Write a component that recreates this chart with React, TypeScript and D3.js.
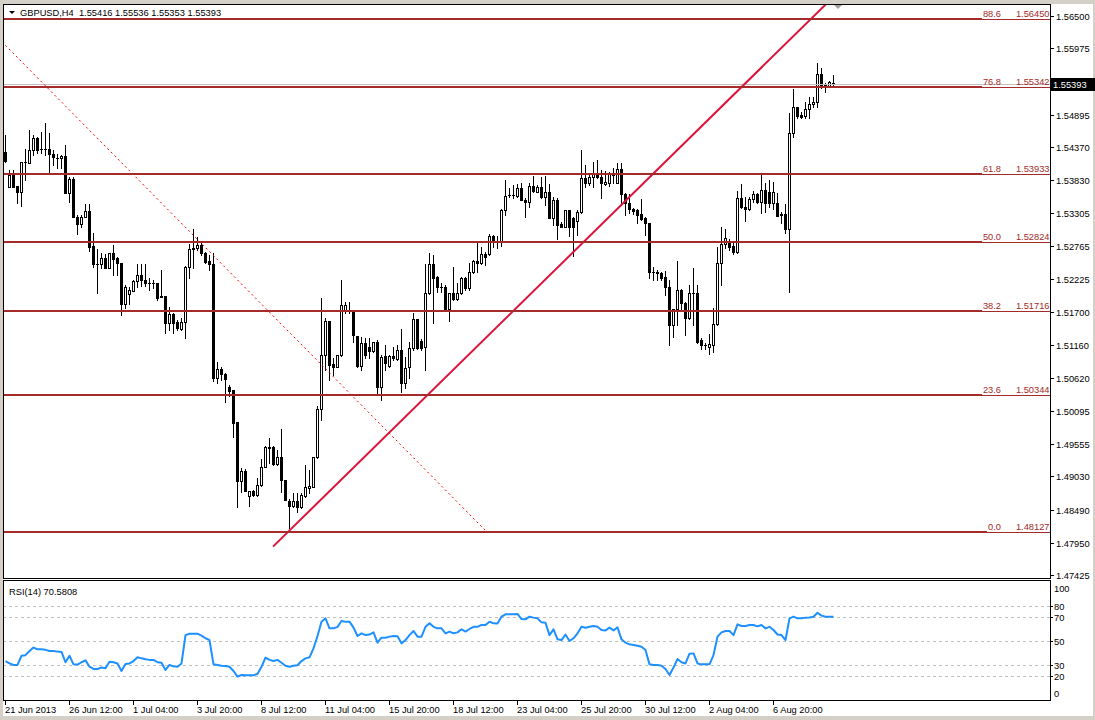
import React, { useEffect, useRef } from 'react';
import * as d3 from 'd3';

// ---------- data ----------
const symbolTitle = 'GBPUSD,H4';
const headerValues = ['1.55416', '1.55536', '1.55353', '1.55393'];
const bidPrice = 1.55393;
const rsiTitle = 'RSI(14) 70.5808';

// [open, high, low, close] per H4 bar, from 21 Jun 2013 20:00
const bars: [number, number, number, number][] = [
  [1.5429,1.5457,1.5413,1.5415],[1.5373,1.5400,1.5373,1.5392],[1.5392,1.5400,1.5373,1.5373],[1.5374,1.5374,1.5346,1.5364],
  [1.5364,1.5413,1.5342,1.5413],[1.5413,1.5434,1.5384,1.5413],[1.5411,1.5465,1.5411,1.5432],[1.5432,1.5457,1.5424,1.5452],
  [1.5452,1.5454,1.5428,1.5432],[1.5434,1.5462,1.5428,1.5434],[1.5434,1.5476,1.5424,1.5434],[1.5434,1.5460,1.5395,1.5426],
  [1.5426,1.5432,1.5408,1.5421],[1.5420,1.5426,1.5403,1.5420],[1.5420,1.5424,1.5403,1.5423],[1.5423,1.5441,1.5363,1.5363],
  [1.5363,1.5389,1.5348,1.5385],[1.5385,1.5389,1.5324,1.5324],[1.5324,1.5327,1.5296,1.5312],[1.5312,1.5327,1.5308,1.5324],
  [1.5324,1.5345,1.5324,1.5334],[1.5334,1.5345,1.5269,1.5275],[1.5277,1.5298,1.5243,1.5248],[1.5248,1.5272,1.5200,1.5248],
  [1.5248,1.5265,1.5241,1.5257],[1.5257,1.5264,1.5241,1.5241],[1.5241,1.5265,1.5241,1.5265],[1.5265,1.5278,1.5230,1.5256],
  [1.5257,1.5259,1.5230,1.5249],[1.5249,1.5249,1.5165,1.5183],[1.5183,1.5213,1.5176,1.5210],[1.5199,1.5210,1.5183,1.5205],
  [1.5204,1.5221,1.5204,1.5220],[1.5220,1.5248,1.5210,1.5230],[1.5230,1.5248,1.5212,1.5221],[1.5221,1.5248,1.5212,1.5217],
  [1.5217,1.5225,1.5205,1.5217],[1.5217,1.5221,1.5209,1.5217],[1.5217,1.5217,1.5189,1.5192],[1.5196,1.5238,1.5194,1.5194],
  [1.5196,1.5196,1.5136,1.5152],[1.5152,1.5178,1.5140,1.5166],[1.5166,1.5168,1.5136,1.5152],[1.5153,1.5157,1.5140,1.5144],
  [1.5142,1.5160,1.5140,1.5153],[1.5153,1.5244,1.5127,1.5243],[1.5243,1.5280,1.5225,1.5272],[1.5272,1.5304,1.5241,1.5273],
  [1.5273,1.5291,1.5270,1.5278],[1.5278,1.5285,1.5262,1.5265],[1.5265,1.5267,1.5249,1.5251],[1.5252,1.5262,1.5238,1.5248],
  [1.5248,1.5265,1.5058,1.5063],[1.5063,1.5089,1.5054,1.5077],[1.5077,1.5080,1.5059,1.5069],[1.5069,1.5071,1.5024,1.5061],
  [1.5048,1.5051,1.5033,1.5041],[1.5043,1.5043,1.4967,1.4990],[1.4991,1.4991,1.4853,1.4895],[1.4895,1.4917,1.4878,1.4912],
  [1.4912,1.4915,1.4879,1.4879],[1.4871,1.4879,1.4855,1.4879],[1.4879,1.4881,1.4871,1.4873],[1.4873,1.4900,1.4871,1.4889],
  [1.4889,1.4931,1.4887,1.4918],[1.4918,1.4952,1.4918,1.4951],[1.4951,1.4965,1.4925,1.4949],[1.4951,1.4952,1.4921,1.4923],
  [1.4923,1.4946,1.4921,1.4934],[1.4934,1.4980,1.4878,1.4897],[1.4897,1.4897,1.4865,1.4865],[1.4863,1.4866,1.4819,1.4855],
  [1.4855,1.4876,1.4853,1.4863],[1.4863,1.4876,1.4845,1.4853],[1.4853,1.4876,1.4852,1.4873],[1.4871,1.4921,1.4869,1.4886],
  [1.4884,1.4913,1.4876,1.4887],[1.4886,1.4934,1.4886,1.4934],[1.4934,1.5017,1.4933,1.5012],[1.5012,1.5192,1.4994,1.5100],
  [1.5100,1.5160,1.5076,1.5155],[1.5155,1.5155,1.5059,1.5084],[1.5085,1.5095,1.5067,1.5080],[1.5080,1.5100,1.5080,1.5100],
  [1.5100,1.5221,1.5098,1.5181],[1.5171,1.5186,1.5168,1.5181],[1.5171,1.5186,1.5168,1.5171],[1.5173,1.5173,1.5121,1.5132],
  [1.5131,1.5131,1.5080,1.5082],[1.5082,1.5129,1.5076,1.5119],[1.5119,1.5127,1.5095,1.5100],[1.5113,1.5127,1.5095,1.5106],
  [1.5106,1.5121,1.5105,1.5121],[1.5121,1.5124,1.5035,1.5048],[1.5048,1.5100,1.5027,1.5097],[1.5098,1.5116,1.5076,1.5087],
  [1.5082,1.5100,1.5080,1.5098],[1.5098,1.5113,1.5092,1.5095],[1.5093,1.5116,1.5092,1.5108],[1.5108,1.5142,1.5040,1.5054],
  [1.5054,1.5097,1.5046,1.5079],[1.5080,1.5121,1.5063,1.5111],[1.5111,1.5168,1.5108,1.5158],[1.5158,1.5158,1.5110,1.5111],
  [1.5123,1.5126,1.5108,1.5111],[1.5113,1.5248,1.5076,1.5200],[1.5200,1.5265,1.5199,1.5248],[1.5248,1.5262,1.5152,1.5225],
  [1.5226,1.5228,1.5202,1.5210],[1.5210,1.5217,1.5202,1.5210],[1.5210,1.5213,1.5173,1.5174],[1.5174,1.5200,1.5155,1.5200],
  [1.5200,1.5243,1.5189,1.5191],[1.5191,1.5217,1.5189,1.5200],[1.5200,1.5226,1.5199,1.5225],[1.5225,1.5226,1.5205,1.5209],
  [1.5209,1.5249,1.5205,1.5234],[1.5234,1.5254,1.5233,1.5252],[1.5252,1.5283,1.5234,1.5249],[1.5249,1.5275,1.5248,1.5264],
  [1.5264,1.5267,1.5246,1.5259],[1.5264,1.5296,1.5262,1.5293],[1.5293,1.5294,1.5275,1.5283],[1.5285,1.5293,1.5273,1.5285],
  [1.5283,1.5337,1.5277,1.5335],[1.5335,1.5384,1.5327,1.5358],[1.5359,1.5371,1.5356,1.5359],[1.5359,1.5376,1.5355,1.5359],
  [1.5358,1.5377,1.5356,1.5371],[1.5371,1.5379,1.5351,1.5351],[1.5351,1.5355,1.5324,1.5348],[1.5348,1.5379,1.5340,1.5374],
  [1.5374,1.5390,1.5364,1.5366],[1.5364,1.5376,1.5364,1.5373],[1.5373,1.5389,1.5355,1.5356],[1.5356,1.5390,1.5343,1.5364],
  [1.5364,1.5377,1.5322,1.5322],[1.5322,1.5356,1.5311,1.5351],[1.5351,1.5355,1.5288,1.5311],[1.5312,1.5316,1.5308,1.5308],
  [1.5308,1.5335,1.5308,1.5335],[1.5335,1.5335,1.5293,1.5308],[1.5322,1.5324,1.5260,1.5308],[1.5317,1.5335,1.5294,1.5332],
  [1.5332,1.5432,1.5330,1.5387],[1.5387,1.5408,1.5373,1.5379],[1.5379,1.5395,1.5376,1.5389],[1.5389,1.5413,1.5373,1.5395],
  [1.5395,1.5416,1.5387,1.5389],[1.5389,1.5400,1.5355,1.5379],[1.5377,1.5398,1.5376,1.5381],[1.5379,1.5397,1.5374,1.5394],
  [1.5394,1.5403,1.5379,1.5392],[1.5379,1.5411,1.5379,1.5402],[1.5402,1.5411,1.5343,1.5361],[1.5361,1.5363,1.5327,1.5346],
  [1.5346,1.5361,1.5330,1.5337],[1.5337,1.5338,1.5329,1.5334],[1.5335,1.5337,1.5314,1.5327],[1.5329,1.5353,1.5319,1.5321],
  [1.5322,1.5324,1.5294,1.5314],[1.5314,1.5314,1.5225,1.5234],[1.5234,1.5243,1.5221,1.5234],[1.5234,1.5238,1.5221,1.5233],
  [1.5233,1.5234,1.5221,1.5225],[1.5226,1.5236,1.5197,1.5210],[1.5210,1.5221,1.5116,1.5149],[1.5149,1.5174,1.5129,1.5174],
  [1.5174,1.5252,1.5149,1.5205],[1.5205,1.5207,1.5173,1.5184],[1.5184,1.5186,1.5132,1.5160],[1.5160,1.5213,1.5158,1.5200],
  [1.5200,1.5241,1.5149,1.5200],[1.5200,1.5213,1.5119,1.5121],[1.5124,1.5127,1.5110,1.5116],[1.5116,1.5119,1.5110,1.5116],
  [1.5113,1.5134,1.5102,1.5118],[1.5116,1.5176,1.5105,1.5150],[1.5150,1.5275,1.5149,1.5249],[1.5249,1.5308,1.5213,1.5280],
  [1.5280,1.5304,1.5273,1.5290],[1.5283,1.5288,1.5270,1.5275],[1.5277,1.5285,1.5264,1.5267],[1.5267,1.5366,1.5265,1.5355],
  [1.5355,1.5377,1.5338,1.5340],[1.5340,1.5356,1.5317,1.5337],[1.5337,1.5356,1.5335,1.5353],[1.5353,1.5366,1.5348,1.5361],
  [1.5361,1.5363,1.5346,1.5348],[1.5348,1.5392,1.5330,1.5367],[1.5367,1.5379,1.5332,1.5346],[1.5364,1.5384,1.5340,1.5346],
  [1.5346,1.5381,1.5337,1.5364],[1.5346,1.5363,1.5325,1.5325],[1.5329,1.5332,1.5314,1.5327],[1.5329,1.5345,1.5298,1.5304],
  [1.5304,1.5493,1.5202,1.5460],[1.5460,1.5531,1.5454,1.5502],[1.5502,1.5502,1.5484,1.5488],[1.5489,1.5494,1.5484,1.5486],
  [1.5488,1.5510,1.5484,1.5499],[1.5499,1.5518,1.5484,1.5507],[1.5507,1.5518,1.5502,1.5510],[1.5510,1.5574,1.5502,1.5556],
  [1.5556,1.5566,1.5533,1.5535],[1.5540,1.5541,1.5527,1.5536],[1.5536,1.5544,1.5535,1.5543],[1.55416,1.55536,1.55353,1.55393],
];

const rsiValues = [
  33,31,29.7,29.7,37.5,38,41.5,44.4,43,43,42.5,41.5,41.5,41,40.7,32,
  37.5,30.2,30,32,33.6,28.2,26.3,26.3,27.5,27,32.5,32,31,24.6,30.5,31,
  33,36.2,35.3,34.5,34,34,32,31.5,25.5,29.7,28.5,28.2,31,55,56.2,56.2,
  56.2,54.5,52.3,50.8,30.2,29.7,29,28.8,28.2,24.6,19.8,21.2,21,21,21,22,
  28.2,35.9,34,33,34,31.6,29,28.2,29,29.4,33,35.3,36.2,43.8,54.2,66.4,
  69.2,60.7,60.7,62,67,66.4,66.4,61.3,54.2,56.5,55,55.5,57.3,48.6,52.8,52.8,
  53.7,54.2,54,48,50.8,55,58.5,53.7,53.7,62,65,62,60.7,60.7,56.5,58,
  56.5,57.3,59.9,58,60.2,62,62,63.6,63.6,66.4,65,64.8,70.6,72.6,72.6,72.6,
  72.9,68.6,68.4,70.6,69.8,69.2,65.8,65.5,55,59.9,51.4,50.8,55.5,50,52.3,56.5,
  62,61.3,62,62.7,62,59.3,59,61.3,59,61.6,51.4,48.6,47.2,46.6,46,45.2,
  42.4,30.2,29.7,29.7,29,26.3,21.2,27.5,34.7,32,31,39.3,39.5,31,30.2,30.2,
  30.2,38.1,53.7,57.3,58.5,58.5,55,64.1,62.7,62.7,63.6,63.6,62.4,63.6,60.7,62,
  59.3,55.5,55,50.8,69.2,70.6,69.2,69.2,69.8,70,70.6,74,71.5,70.6,70.6,70.58,
];

const timeLabels = ['21 Jun 2013','26 Jun 12:00','1 Jul 04:00','3 Jul 20:00','8 Jul 12:00','11 Jul 04:00','15 Jul 20:00','18 Jul 12:00','23 Jul 04:00','25 Jul 20:00','30 Jul 12:00','2 Aug 04:00','6 Aug 20:00'];
const timeLabelBars = [0,16,32,48,64,80,96,112,128,144,160,176,192];

// (the 1.55435 label lies hidden under the bid box in the reference)
const priceTicks = ['1.56500','1.55975','1.54895','1.54370','1.53830','1.53305','1.52765','1.52225','1.51700','1.51160','1.50620','1.50095','1.49555','1.49030','1.48490','1.47950','1.47425'];

const fibLevelNames = ['0.0','23.6','38.2','50.0','61.8','76.8','88.6'];
const fibLevelPrices = [1.48127,1.50344,1.51716,1.52824,1.53933,1.55342,1.56450];
// Fibonacci diagonal: 100% anchor (off chart, left) -> 0% anchor
const fibAnchorBars = [-22.75, 120.5];
const fibAnchorPrices = [1.57521, 1.48127];
// rising trend line anchors
const trendBars = [67, 205.25];
const trendPrices = [1.4789, 1.5669];

const rsiTicks = [100, 80, 70, 50, 30, 20, 0];
const rsiLevels = [80, 70, 50, 30, 20];

const FONT = "'Liberation Sans', Arial, sans-serif";
const FIB_COLOR = '#A52A2A';

export default function App() {
  const ref = useRef<SVGSVGElement>(null);

  useEffect(() => {
    const svg = d3.select(ref.current);
    svg.selectAll('*').remove();

    const W = 1095, H = 720;
    const left = 3, right = 1050, mainTop = 4, mainBottom = 578, rsiTop = 580, rsiBottom = 700;

    const x = d3.scaleLinear().domain([0, bars.length - 1]).range([5, 5 + 4 * (bars.length - 1)]);
    const y = d3.scaleLinear().domain([1.47425, 1.565]).range([575.3, 15.9]);
    const yr = d3.scaleLinear().domain([0, 100]).range([700, 582]);

    // background & window border
    svg.append('rect').attr('width', W).attr('height', H).attr('fill', '#fff');
    svg.append('rect').attr('x', 0).attr('y', 0).attr('width', W).attr('height', 4).attr('fill', '#d4d0c8');
    svg.append('rect').attr('x', 0).attr('y', 0).attr('width', 3).attr('height', H).attr('fill', '#d4d0c8');
    svg.append('rect').attr('x', 0).attr('y', 716).attr('width', W).attr('height', 4).attr('fill', '#d4d0c8');
    svg.append('rect').attr('x', 1093).attr('y', 0).attr('width', 2).attr('height', H).attr('fill', '#d4d0c8');

    const defs = svg.append('defs');
    defs.append('clipPath').attr('id', 'mainClip').append('rect')
      .attr('x', left + 1).attr('y', mainTop + 1).attr('width', right - left - 1).attr('height', mainBottom - mainTop - 1);
    defs.append('clipPath').attr('id', 'rsiClip').append('rect')
      .attr('x', left + 1).attr('y', rsiTop + 1).attr('width', right - left - 1).attr('height', rsiBottom - rsiTop - 1);

    const main = svg.append('g').attr('clip-path', 'url(#mainClip)');

    // candles
    const cg = main.append('g').attr('shape-rendering', 'crispEdges');
    bars.forEach((b, i) => {
      const [o, h, l, c] = b;
      const cx = Math.round(x(i));
      const hi = Math.round(y(Math.max(h, o, c)));
      const lo = Math.round(y(Math.min(l, o, c)));
      const top = Math.round(y(Math.max(o, c)));
      const bot = Math.round(y(Math.min(o, c)));
      cg.append('rect').attr('x', cx).attr('y', hi).attr('width', 1).attr('height', lo - hi + 1).attr('fill', '#000');
      cg.append('rect').attr('x', cx - 1).attr('y', top).attr('width', 3).attr('height', bot - top + 1).attr('fill', '#000');
      if (c > o && bot - top >= 2) {
        cg.append('rect').attr('x', cx).attr('y', top + 1).attr('width', 1).attr('height', bot - top - 1).attr('fill', '#fff');
      }
    });

    // bid line
    main.append('line').attr('x1', left).attr('x2', right).attr('y1', Math.round(y(bidPrice)) + 0.5).attr('y2', Math.round(y(bidPrice)) + 0.5)
      .attr('stroke', '#c0c0c0').attr('stroke-width', 1);

    // fibonacci levels
    const fibG = svg.append('g');
    fibLevelPrices.forEach((p, k) => {
      const ly = Math.round(y(p));
      const nameT = fibG.append('text').attr('x', 1001).attr('y', ly - 2).attr('text-anchor', 'end')
        .attr('font-family', FONT).attr('font-size', 9.3).attr('fill', FIB_COLOR).text(fibLevelNames[k]);
      fibG.append('text').attr('x', 1049.5).attr('y', ly - 2).attr('text-anchor', 'end')
        .attr('font-family', FONT).attr('font-size', 9.3).attr('fill', FIB_COLOR).text(p.toFixed(5));
      const nameW = (nameT.node() as SVGTextElement).getComputedTextLength();
      const split = Math.round(1001 - nameW) - 1;
      fibG.append('rect').attr('x', left + 1).attr('y', ly - 1).attr('width', split - left - 1).attr('height', 2)
        .attr('fill', FIB_COLOR).attr('shape-rendering', 'crispEdges');
      fibG.append('rect').attr('x', split).attr('y', ly).attr('width', right - split).attr('height', 1)
        .attr('fill', FIB_COLOR).attr('shape-rendering', 'crispEdges');
    });

    // fib diagonal (dotted)
    main.append('line')
      .attr('x1', x(fibAnchorBars[0])).attr('y1', y(fibAnchorPrices[0]))
      .attr('x2', x(fibAnchorBars[1])).attr('y2', y(fibAnchorPrices[1]))
      .attr('stroke', '#ff0000').attr('stroke-width', 1).attr('stroke-dasharray', '2,3');

    // trend line
    main.append('line')
      .attr('x1', x(trendBars[0])).attr('y1', y(trendPrices[0]))
      .attr('x2', x(trendBars[1])).attr('y2', y(trendPrices[1]))
      .attr('stroke', '#dc143c').attr('stroke-width', 2);

    // shift marker triangle
    const sx = x(bars.length - 1) + 5;
    svg.append('path').attr('d', `M${sx - 4},5 L${sx + 4},5 L${sx},9 Z`).attr('fill', '#a0a0a0');

    // frames
    const fr = svg.append('g').attr('shape-rendering', 'crispEdges').attr('fill', 'none').attr('stroke', '#000');
    fr.append('rect').attr('x', left + 0.5).attr('y', mainTop + 0.5).attr('width', right - left).attr('height', mainBottom - mainTop);
    fr.append('rect').attr('x', left + 0.5).attr('y', rsiTop + 0.5).attr('width', right - left).attr('height', rsiBottom - rsiTop);

    // price axis
    const pa = svg.append('g');
    priceTicks.forEach((t) => {
      const ty = Math.round(y(+t));
      pa.append('line').attr('x1', right + 1).attr('x2', right + 4).attr('y1', ty + 0.5).attr('y2', ty + 0.5)
        .attr('stroke', '#000').attr('shape-rendering', 'crispEdges');
      pa.append('text').attr('x', right + 6).attr('y', ty + 3.5).attr('font-family', FONT).attr('font-size', 9.3)
        .attr('fill', '#000').text(t);
    });
    // bid box
    const by = Math.round(y(bidPrice));
    pa.append('rect').attr('x', right + 1).attr('y', by - 6).attr('width', 44).attr('height', 13).attr('fill', '#000');
    pa.append('text').attr('x', right + 3).attr('y', by + 4).attr('font-family', FONT).attr('font-size', 9.3)
      .attr('fill', '#fff').text(bidPrice.toFixed(5));

    // header
    svg.append('path').attr('d', 'M9,11 L15,11 L12,14 Z').attr('fill', '#000');
    svg.append('text').attr('x', 20).attr('y', 16).attr('font-family', FONT).attr('font-size', 9.3).attr('fill', '#000')
      .attr('xml:space', 'preserve').text(`${symbolTitle}  ${headerValues.join(' ')}`);

    // RSI panel
    const rg = svg.append('g').attr('clip-path', 'url(#rsiClip)');
    rsiLevels.forEach((v) => {
      rg.append('line').attr('x1', left).attr('x2', right).attr('y1', Math.round(yr(v)) + 0.5).attr('y2', Math.round(yr(v)) + 0.5)
        .attr('stroke', '#c0c0c0').attr('stroke-dasharray', '3,3').attr('shape-rendering', 'crispEdges');
    });
    const line = d3.line<number>().x((_, i) => x(i) + 0.5).y((v) => yr(v));
    rg.append('path').attr('d', line(rsiValues) as string).attr('fill', 'none').attr('stroke', '#1e90ff').attr('stroke-width', 2)
      .attr('stroke-linejoin', 'round');
    svg.append('text').attr('x', 9).attr('y', 595).attr('font-family', FONT).attr('font-size', 9.3).attr('fill', '#000').text(rsiTitle);

    rsiTicks.forEach((v) => {
      const ty = Math.round(yr(v));
      const ly = Math.min(Math.max(ty, 588), 693);
      if (v !== 100 && v !== 0) {
        svg.append('line').attr('x1', right + 1).attr('x2', right + 3).attr('y1', ty + 0.5).attr('y2', ty + 0.5)
          .attr('stroke', '#000').attr('shape-rendering', 'crispEdges');
      }
      svg.append('text').attr('x', right + 4).attr('y', ly + 3.5).attr('font-family', FONT).attr('font-size', 9.3)
        .attr('fill', '#000').text(String(v));
    });

    // time axis
    timeLabels.forEach((t, k) => {
      const tx = Math.round(x(timeLabelBars[k]));
      svg.append('line').attr('x1', tx + 0.5).attr('x2', tx + 0.5).attr('y1', rsiBottom + 1).attr('y2', rsiBottom + 5)
        .attr('stroke', '#000').attr('shape-rendering', 'crispEdges');
      svg.append('text').attr('x', tx).attr('y', 713).attr('font-family', FONT).attr('font-size', 9.3).attr('fill', '#000').text(t);
    });
  }, []);

  return <svg ref={ref} width={1095} height={720} style={{ position: 'absolute', left: 0, top: 0, display: 'block' }} />;
}
